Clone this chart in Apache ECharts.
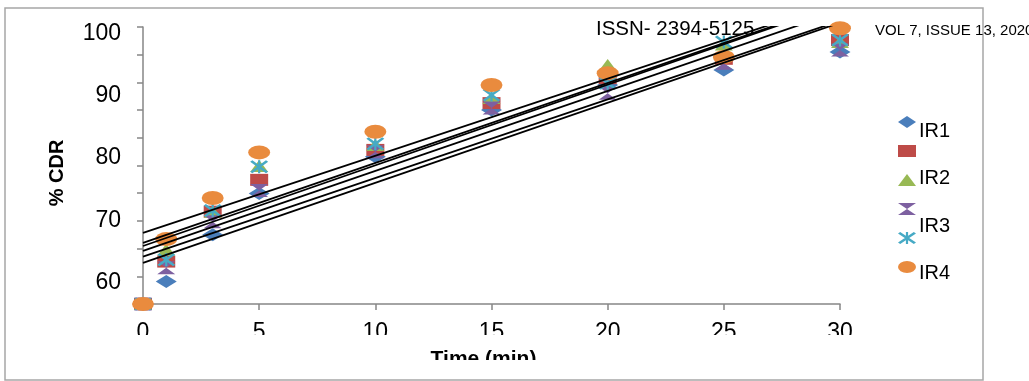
<!DOCTYPE html>
<html>
<head>
<meta charset="utf-8">
<title>% CDR vs Time</title>
<script src="https://cdn.jsdelivr.net/npm/echarts@6/dist/echarts.min.js"></script>
<style>
  html, body { margin: 0; padding: 0; background: #fff; }
  #chart { width: 1029px; height: 381px; }
</style>
</head>
<body>
<div id="chart"></div>
<script>
// sampling times (min)
var times = [0, 1, 3, 5, 10, 15, 20, 25, 30];

// % CDR per formulation
var ir1 = [56.6, 60.2, 67.7, 74.3, 80.2, 87.7, 91.7, 94.1, 97.0];
var ir1b = [56.6, 63.4, 71.4, 76.5, 81.3, 88.8, 92.8, 95.9, 98.9];
var ir2 = [56.6, 65.3, 71.4, 78.7, 82.1, 89.6, 94.9, 98.2, 98.6];
var ir2b = [56.6, 62.4, 69.8, 74.8, 81.0, 88.0, 90.4, 95.2, 97.3];
var ir3 = [56.6, 63.7, 71.6, 78.6, 82.3, 90.1, 92.0, 98.6, 98.9];
var ir4 = [56.6, 67.0, 73.6, 80.9, 84.2, 91.7, 93.6, 96.2, 100.8];

// linear trendlines (intercept at t=0, slope per min)
var trendIntercepts = [68.0, 66.4, 65.9, 65.1, 64.2, 63.2];
var trendSlopes = [1.236, 1.281, 1.293, 1.282, 1.260, 1.283];

var yLabels = [60, 70, 80, 90, 100];
var legendLabels = ['IR1', 'IR2', 'IR3', 'IR4'];

var yMin = 56.6, yMax = 101;
var FONT = '"Liberation Sans", Arial, sans-serif';

// marker shapes drawn in an 18x12 box so legend icons keep that proportion
var SYM = {
  diamond: 'path://M0,6 L9,0 L18,6 L9,12 Z',
  square: 'path://M0,0 L18,0 L18,12 L0,12 Z',
  triangle: 'path://M9,0 L18,12 L0,12 Z',
  hourglass: 'path://M0,0 L18,0 L9,6 L18,12 L0,12 L9,6 Z',
  star: 'path://M0,1.4 L2.2,0 L18,10.6 L15.8,12 Z M15.8,0 L18,1.4 L2.2,12 L0,10.6 Z M7.9,0 L10.1,0 L10.1,12 L7.9,12 Z',
  ellipse: 'path://M0,6 A9,6 0 1 1 18,6 A9,6 0 1 1 0,6 Z'
};

var seriesDefs = [
  { name: 'IR1', data: ir1, color: '#4A7EBB', symbol: SYM.diamond, size: [21, 13] },
  { name: 'IR1 ', data: ir1b, color: '#BE4B48', symbol: SYM.square, size: [18, 12] },
  { name: 'IR2', data: ir2, color: '#98B954', symbol: SYM.triangle, size: [18, 12] },
  { name: 'IR2 ', data: ir2b, color: '#7D60A0', symbol: SYM.hourglass, size: [18, 13] },
  { name: 'IR3', data: ir3, color: '#46AAC5', symbol: SYM.star, size: [18, 13] },
  { name: 'IR4', data: ir4, color: '#E98B3E', symbol: SYM.ellipse, size: [22, 14] }
];

// tick marks: ten equal steps along the value axis
var tickMarks = [];
for (var k = 0; k <= 10; k++) tickMarks.push(yMin + (yMax - yMin) * k / 10);

var series = [];
seriesDefs.forEach(function (d) {
  series.push({
    name: d.name,
    type: 'scatter',
    symbol: d.symbol,
    symbolSize: d.size,
    symbolKeepAspect: false,
    itemStyle: { color: d.color, opacity: 1 },
    data: times.map(function (t, i) { return [t, d.data[i]]; }),
    z: 3
  });
});
trendIntercepts.forEach(function (b, i) {
  var t0 = times[0], t1 = times[times.length - 1];
  series.push({
    name: 'trend' + i,
    type: 'line',
    symbol: 'none',
    silent: true,
    clip: true,
    lineStyle: { color: '#000', width: 1.8 },
    data: [[t0, b + trendSlopes[i] * t0], [t1, b + trendSlopes[i] * t1]],
    z: 4
  });
});

var legendY = [130, 177, 225, 272];

var chart = echarts.init(document.getElementById('chart'));
chart.setOption({
  animation: false,
  backgroundColor: '#fff',
  textStyle: { fontFamily: FONT },
  grid: { left: 143, right: 189, top: 27, bottom: 77 },
  legend: {
    orient: 'vertical',
    left: 898,
    top: 116,
    padding: 0,
    itemWidth: 18,
    itemHeight: 12,
    itemGap: 17,
    data: seriesDefs.map(function (d) { return { name: d.name, icon: d.symbol }; }),
    formatter: function () { return ''; },
    textStyle: { fontSize: 8 },
    selectedMode: false
  },
  xAxis: {
    type: 'value',
    min: 0,
    max: 30,
    interval: 5,
    splitLine: { show: false },
    axisLine: { lineStyle: { color: '#868686', width: 1.5 } },
    axisTick: { length: 6, lineStyle: { color: '#868686', width: 1.5 } },
    axisLabel: { fontSize: 23, color: '#000', margin: 17, fontFamily: FONT },
    name: 'Time (min)',
    nameLocation: 'middle',
    nameGap: 44,
    nameTextStyle: { fontSize: 21, fontWeight: 'bold', color: '#000', padding: [0, 16, 0, 0], fontFamily: FONT }
  },
  yAxis: {
    type: 'value',
    min: yMin,
    max: yMax,
    splitLine: { show: false },
    axisLine: { show: true, lineStyle: { color: '#868686', width: 1.5 } },
    axisTick: { show: true, length: 6, customValues: tickMarks, lineStyle: { color: '#868686', width: 1.5 } },
    axisLabel: { fontSize: 23, color: '#000', margin: 22, customValues: yLabels, fontFamily: FONT },
    name: '% CDR',
    nameLocation: 'middle',
    nameGap: 76,
    nameTextStyle: { fontSize: 20, fontWeight: 'bold', color: '#000', padding: [0, 15, 0, 0], fontFamily: FONT }
  },
  graphic: [
    // cropped bottom of the figure
    { type: 'rect', z: 100, shape: { x: 6, y: 335, width: 976, height: 13 }, style: { fill: '#fff' } },
    { type: 'rect', z: 100, shape: { x: 6, y: 360, width: 976, height: 19 }, style: { fill: '#fff' } },
    { type: 'rect', z: 101, shape: { x: 5, y: 8, width: 978, height: 372 },
      style: { fill: 'none', stroke: '#A6A6A6', lineWidth: 1.5 } },
    { type: 'text', z: 102, left: 596, top: 19,
      style: { text: 'ISSN- 2394-5125', font: '20.5px ' + FONT, fill: '#000' } },
    { type: 'text', z: 102, left: 875, top: 23,
      style: { text: 'VOL 7, ISSUE 13, 2020', font: '15px ' + FONT, fill: '#000' } }
  ].concat(legendLabels.map(function (lab, i) {
    return { type: 'text', z: 102, left: 919, top: legendY[i] - 9,
      style: { text: lab, font: '20px ' + FONT, fill: '#000' } };
  })),
  series: series
});
</script>
</body>
</html>
